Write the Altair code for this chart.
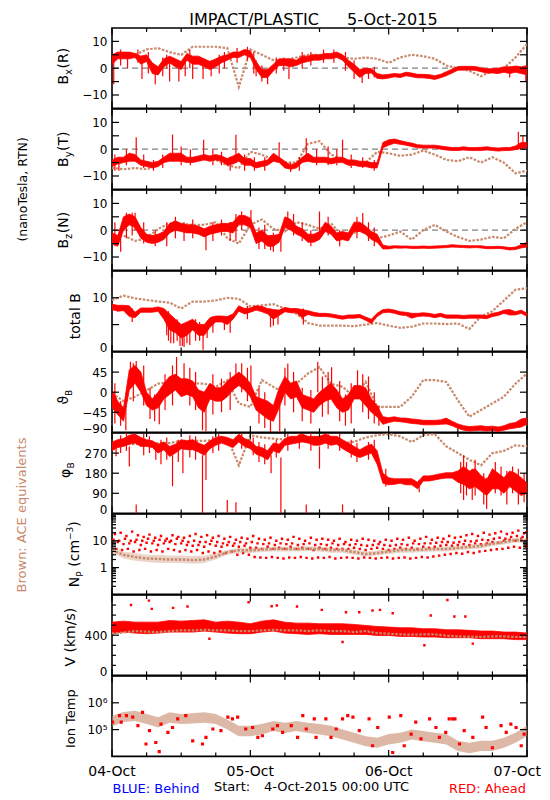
import altair as alt
import pandas as pd

# ---------------------------------------------------------------- data
HOURS = list(range(73))          # hourly samples, 04-Oct 00:00 .. 07-Oct 00:00
HOURS2 = list(range(0, 73, 2))   # two-hourly samples
DAY_H = [0, 24, 48]
DAY_LABELS = ["04-Oct", "05-Oct", "06-Oct"]
LAST_DAY_H = [72]
LAST_DAY_LABEL = ["07-Oct"]
XMAJ = [0, 24, 48, 72]
XMIN = [6, 12, 18, 30, 36, 42, 54, 60, 66]

# ---- Bx (R)
BX_LO = [1.5, 3.5, 3.5, 3.5, 4, 1.5, 2.5, -2, -2.5, 0.5, 2, 0.5, -0.5, 3, 1.5, 1.5, 0.5, -0.5, 0.5, 2,
         3, 4, 4, 5, 4, -0.5, -3.5, -3.5, -1, 1, 1, 0.5, 1, 2, 2.5, 3, 3, 3.5, 3.5, 4,
         3, 0.5, -1.5, -3.5, -2, -1.8,
         -3.8, -4, -3.7, -3.2, -3.5, -2.8, -3.2, -3.6, -3.6, -3.8, -4.2, -3.6, -2.8, -1.8, -0.8, -0.7, -0.7,
         -0.8, -1.3, -1.8, -1.8, -2, -1.5, -2, -1.5, -2, -2.5]
BX_HI = [5, 6, 6, 6, 5.5, 4.5, 5, 2, 0.5, 3.5, 4.5, 3.5, 2.5, 5.5, 4.5, 4.5, 3.5, 2.5, 3.5, 4.5,
         5, 6, 6, 7, 6.5, 2.5, -0.5, -0.5, 1.5, 3.5, 3.5, 3.5, 3, 4.5, 4.5, 5, 5, 5.5, 5.5, 6,
         5, 3, 1.5, -0.5, 0, -0.2,
         -2, -2.5, -2.3, -2, -2.2, -1.5, -1.8, -2.3, -2.3, -2.4, -2.8, -2.3, -1.3, -0.4, 0.6, 0.7, 0.7,
         0.6, 0.2, -0.2, -0.2, 0, 0.5, 0.5, 0.8, 0.5, 1]
BX_SPK_H = [0.3, 5.2, 7.5, 10.0, 11.6, 14.0, 15.8, 27.0, 30.7, 43.4, 69.0, 71.8, 25.0, 33.0,
            1.5, 2.7, 4.5, 6.3, 8.8, 9.5, 12.7, 13.5, 17.2, 18.6, 19.5, 21.7, 23.5, 24.6, 26.0,
            28.5, 29.8, 34.5, 36.7, 38.5, 40.5, 42.0, 44.5, 45.5]
BX_SPK_LO = [-6, -4, -6, -5, -5, -4, -4, -6, -4, -5.5, -3.5, -5, -3, 0,
             1, 0, 2, -2, -3, 0, -3, 0, -3, -2, 0, 2, 3, -2, -5, -2, -1, 1, 2, 2, -1, -4, -4, -3.5]
BX_SPK_HI = [3, 3, 0, 2, 2, 3, 2, -1, 1, -1, 0, 0, 3, 6,
             7, 6, 7, 6, 4, 5, 4, 7, 3, 5, 6, 7.5, 8, 6, 1, 4, 4, 6, 7, 7, 6, 3, 0, 0.5]
BX_ACE = [5, 4, 5, 7, 7.5, 6, 5, 8, 8, 8, 7.5, -7, 7, 5, 3, 3, 4, 5, 5, 5, 4, 3.5, 4, 3.5, 2, 4, 5,
          4.5, 3.5, 1, 0, -1, -3, -1, 0, 4, 9]

# ---- By (T)
BY_LO = [-6.5, -5.5, -5, -4.5, -4.5, -6, -6.5, -7, -6.5, -5, -4.5, -4.5, -4.5, -5, -5, -4.5, -4, -4.5, -4, -4.5,
         -6, -5.5, -4.5, -6, -6, -7, -6.5, -6, -4.5, -5, -7, -7.5, -7, -5, -4.5, -5, -5, -5, -5.5, -5,
         -5, -6, -6, -6.5, -6.5, -7, -7,
         0.5, 1.5, 2.2, 1.8, 1.5, 1, 0.5, 0.4, 0.4, 0.4, 0, -0.3, -0.5, -0.5, -0.3, -0.5, -0.5, -0.5, -0.3, -0.5,
         -0.7, -0.5, -0.5, -0.2, 0.3, 0.5]
BY_HI = [-4, -3, -3, -1.5, -2, -4, -4.5, -5, -4.5, -3, -1.5, -1.5, -1.5, -3, -3, -2.5, -2, -2.5, -2, -2.5,
         -3.5, -2.5, -1.5, -3.5, -3.5, -5, -4.5, -4, -1.5, -3, -4.5, -6, -5, -3, -1.5, -3, -3, -3, -3.5, -3,
         -3, -4, -4, -4.5, -4.5, -5, -5,
         2.5, 3.5, 3.8, 3.2, 2.7, 2.3, 1.7, 1.5, 1.5, 1.5, 1.2, 0.9, 0.6, 0.6, 0.9, 0.6, 0.6, 0.7, 0.9, 0.6,
         0.4, 0.6, 0.6, 1.2, 2.5, 2.5]
BY_SPK_H = [4.2, 10.5, 15.9, 21.5, 29.0, 33.7, 40.0, 70.5, 71.3, 1.2, 31.0,
            0.5, 2.5, 5.5, 7.2, 8.8, 12.0, 13.6, 17.5, 19.0, 20.5, 23.0, 24.7, 26.5, 32.5, 35.5, 37.5,
            39.0, 41.5, 43.5, 45.5]
BY_SPK_LO = [-4, -4, -3, -3, -4, -3, -4, 0, 0, -8, -8.5,
             -8, -6, -7, -8, -7, -6, -6, -6, -6, -8, -8, -8, -8, -8, -6, -6, -6, -7, -7, -8]
BY_SPK_HI = [4.5, 5.5, 3.5, 5.4, 2.6, 4.1, 3.5, 6.5, 5, -3, -5,
             -2, 0, -2, -4, -2, 1, 0, 0, -1, -3, -2, -3, -3, -3, 0, 1, 0, -2, -3, -4]
BY_ACE = [-7, -7.5, -7, -7.5, -6, -3, -4, -4, -3.5, -4, -6, -7, -1, -2, -4, -5, -5, 2, 3, -2, -4, -5,
          -5, -1, -1.5, -2.5, -2, -0.5, -2, -4, -4.5, -3, -5, -3, -5, -9, -8]

# ---- Bz (N)
BZ_LO = [-5, -6, 0, 2, 1, -3, -4.5, -5, -4.5, -3.5, -1, 0, -0.5, -1, -1, -1.5, -2.5, -1.5, -1, -0.5,
         -0.5, -1, 2, 2, 1, -5, -4, -6, -6, -4.5, 1, 0, -1.5, -2.5, -4.5, -4.5, -3.5, -0.5, -1.5, -4,
         -3.5, -4, -0.5, -0.5, -1.5, -3.5, -4.5,
         -7, -7, -6.6, -6.7, -6.6, -6.8, -6.8, -6.7, -6.8, -6.7, -6.6, -6.5, -6.3, -6.4, -6.5, -6.6, -6.5,
         -6.6, -6.9, -6.9, -6.8, -7, -7.4, -7.2, -6.6, -6.3]
BZ_HI = [-1, -2, 5, 6, 5, 1, -1.5, -2, -1.5, -0.5, 2.5, 3.5, 2.5, 2, 2, 1.5, 0.5, 1.5, 2, 2.5,
         2.5, 3, 5.5, 5.5, 4.5, -1, 0, -2, -2, -1.5, 5, 4, 1.5, 0.5, -1.5, -1.5, -0.5, 3, 1.5, -1,
         -0.5, -1, 3, 3, 1.5, -0.5, -1.5,
         -5.5, -6, -5.8, -5.9, -5.9, -6, -6, -5.9, -6, -5.9, -5.8, -5.7, -5.4, -5.6, -5.7, -5.8, -5.8,
         -5.8, -6.1, -6.1, -6, -6.2, -6.5, -6.3, -5.4, -4.5]
BZ_SPK_H = [1.5, 4.0, 16.3, 24.1, 29.3, 30.5, 36.0, 43.5, 27.5, 20.5,
            0.5, 2.5, 3.5, 5.5, 7.5, 9.5, 11.0, 12.5, 14.0, 17.5, 19.0, 21.5, 22.5, 25.5, 26.5, 28.0,
            31.5, 33.0, 34.5, 37.5, 39.5, 42.5, 44.5, 45.5]
BZ_SPK_LO = [-8, 0, -7.5, 1, -8, 1, -1, 0, -7.5, -4,
             -6, -3, -2, -5, -6, -6, -3, -4, -3, -4, -2, -4, 0, -7, -7, -8, -2, -4, -6, -2, -6, -3, -4, -6]
BZ_SPK_HI = [-2, 6.5, 0, 7.5, -2, 7, 7, 6.4, -2, 3,
             3, 6.5, 6.5, 3, 0, 3, 5, 3, 4, 3, 4, 6, 7, 1, 2, -1, 6, 3, 0, 5, 0, 5, 3, 1]
BZ_ACE = [-3, -2, -4, -3, 0.5, 2.5, 2.5, 2, 2, 3, -3, -5, 2, 4, 0.5, -0.5, 3, 2, 0.5, 2.5, -2, -1,
          1, -3, -2, -0.5, -3.5, 0, 2, -0.5, -2.5, -4, -3.5, -2.5, -3, 0.5, 3]

# ---- total B
BT_LO = [7.8, 7.5, 7.6, 6.5, 6.3, 7.3, 7.3, 7.3, 7.5, 6, 4, 3.5, 2.5, 3, 4, 3, 3, 4.5, 5.5, 5.5,
         5, 6, 7.5, 7, 7.3, 7.7, 7.4, 7, 6, 6.7, 7.4, 7.2, 7.2, 6.3, 6.9, 6.6, 6.5, 6.5, 6.4, 6.2,
         6, 6.2, 6.2, 6.3, 5.8, 5.2, 6.5, 7.2, 7.3, 7.1, 6.8, 6.7, 6.2, 6.5, 6.6, 6.5, 6.3, 6.5, 6.2, 6.2,
         6.2, 6.1, 6.2, 6.2, 6.2, 6.1, 6.5, 6.7, 7.1, 6.8, 6.8, 7.1, 6.5]
BT_HI = [8.8, 8.6, 8.6, 8.5, 7.3, 8.1, 8.1, 8.1, 8.3, 8, 7, 6, 5, 5.5, 6, 5, 5, 6.3, 6.6, 6.6,
         6.5, 7, 8.5, 8, 8.1, 8.5, 8.4, 8, 7.8, 7.7, 8.2, 8, 8, 7.8, 7.6, 7.3, 7.1, 7.1, 7, 6.8,
         6.6, 6.8, 6.8, 6.9, 6.4, 6, 7.1, 7.8, 7.9, 7.7, 7.4, 7.3, 7.1, 7.1, 7.2, 7.1, 6.9, 7.1, 6.8, 6.8,
         6.8, 6.7, 6.8, 6.8, 6.8, 6.7, 7.1, 7.3, 7.7, 7.8, 7.4, 7.7, 7.1]
BT_SPK_H = [12.5, 13.5, 15.8, 10.2, 9.5, 28.0, 11.8, 3.5,
            9.8, 10.7, 11.3, 12.2, 13.0, 14.5, 15.2, 16.5, 17.5, 19.5, 20.5, 23.5, 27.5, 28.8, 33.2]
BT_SPK_LO = [0.8, 1.2, 0.3, 1.5, 3, 4.8, 1.0, 5.5,
             2, 1.5, 2, 1, 1.5, 2, 2, 2.5, 3.5, 4, 3.5, 6, 4.5, 5, 5]
BT_SPK_HI = [4, 4, 4, 6, 7, 7, 4, 8,
             7.5, 6, 6, 5, 5.5, 6, 5.5, 5.5, 6.5, 6.5, 6.5, 8.5, 8, 7.5, 8]
BT_ACE = [9.6, 10.4, 9.9, 9.6, 9.3, 9.1, 8, 9.3, 9.3, 9.5, 10, 9.8, 8.4, 8.6, 8.8, 8, 7, 5.3, 4.8,
          4.8, 4.8, 4.7, 5, 5.3, 4.8, 4.4, 4.6, 5.2, 5.2, 5.1, 5.2, 4.2, 6.5, 7.5, 9.5, 11.5, 11.8]

# ---- theta_B
TH_LO = [-35, -50, -65, 5, 20, 0, -30, -40, -35, -15, -5, 5, -10, -5, -10, -35, -45, -15, -20, -20,
         -10, 5, 15, 5, -10, -40, -50, -60, -65, -35, 0, -15, -10, -35, -40, -45, -30, -20, -15, -35,
         -45, -40, -15, -15, -30, -45, -55,
         -72, -68, -65, -66, -68, -70, -71, -73, -73, -73, -72, -71, -75, -81, -85, -87, -86, -85, -87,
         -86, -88, -85, -82, -80, -78, -72]
TH_HI = [5, -20, -35, 50, 60, 45, 0, -15, 0, 20, 35, 40, 30, 30, 25, 5, 0, 20, 10, 10,
         25, 35, 45, 35, 20, -10, -15, -20, -30, 10, 35, 20, 25, -5, -10, -15, 0, 10, 20, 5,
         -15, -5, 15, 15, 10, -15, -30,
         -55, -57, -55, -58, -58, -60, -61, -63, -63, -63, -62, -58, -65, -71, -75, -77, -76, -75, -77,
         -76, -78, -75, -70, -68, -60, -58]
TH_SPK_H = [1.5, 3.2, 4.2, 8.2, 11.2, 12.5, 15.7, 16.3, 21.5, 24.1, 29.1, 30.5, 35.7, 38.1, 42.6, 27.5, 46.3,
            0.5, 2.4, 3.7, 5.5, 6.6, 7.4, 9.2, 10.5, 13.5, 14.5, 17.5, 19.0, 20.5, 22.5, 23.5, 25.5,
            26.5, 30.0, 31.5, 33.0, 34.5, 36.5, 37.5, 39.5, 40.5, 41.5, 43.5, 44.5, 45.5]
TH_SPK_LO = [-75, 20, 30, -72, 20, 20, -85, -88, 20, 10, -88, 20, 0, 10, 0, -90, -75,
             -70, -85, -20, -30, -60, -65, -40, -30, -30, -40, -50, -45, -40, 0, -20, -70,
             -80, -30, -45, -65, -70, -55, -50, -65, -75, -70, -45, -60, -70]
TH_SPK_HI = [-20, 68, 70, -20, 79, 65, -20, -20, 64, 60, -30, 64, 68, 56, 49, -40, -30,
             20, -30, 65, 60, 10, -5, 40, 60, 55, 45, 40, 30, 45, 65, 55, 10,
             0, 55, 45, 10, 5, 35, 45, 25, -5, 20, 40, 35, 0]
TH_ACE = [-3, -20, -10, 4, 19, 23, 15, 20, 19, 12, 27, -25, -33, 27, 12, -3, 19, 42, 56, 19, 12, -10,
          23, -33, -33, -33, -10, 27, 27, 23, -18, -55, -40, -25, -10, 19, 42]

# ---- phi_B
PH_LO = [280, 295, 300, 310, 315, 300, 300, 295, 270, 285, 255, 270, 290, 285, 285, 275, 260, 290, 305, 315,
         305, 295, 320, 300, 290, 265, 255, 240, 280, 270, 305, 310, 315, 320, 315, 305, 305, 315, 305, 310,
         290, 275, 260, 250, 260, 270, 220, 135, 128, 130, 135, 128, 128, 110, 145, 145, 150, 155, 158, 158,
         140, 130, 110, 120, 100, 80, 110, 110, 90, 120, 100, 80, 90]
PH_HI = [320, 330, 335, 350, 355, 340, 330, 325, 310, 320, 300, 310, 330, 325, 330, 315, 305, 325, 340, 345,
         340, 330, 355, 335, 325, 300, 295, 280, 315, 310, 335, 345, 345, 355, 345, 345, 345, 355, 345, 345,
         330, 315, 300, 285, 300, 310, 280, 180, 160, 155, 155, 155, 155, 140, 168, 168, 172, 178, 182, 182,
         190, 210, 190, 200, 170, 150, 200, 180, 160, 190, 180, 160, 135]
PH_SPK_H = [0.7, 3.0, 7.6, 10.5, 12.3, 15.7, 16.3, 27.6, 29.3, 4.2, 20.0, 21.5, 33.7, 40.0, 36.0,
            61.0, 65.0, 70.5, 63.0, 68.5, 60.5,
            1.5, 2.5, 5.5, 6.5, 8.5, 9.5, 11.5, 13.5, 14.5, 17.5, 18.5, 22.5, 24.5, 25.5, 26.5, 28.5,
            30.5, 32.5, 34.5, 37.5, 39.5, 41.5, 42.5, 44.5, 45.5, 47.5, 53.3, 61.5, 62.5, 64.5, 66.5,
            67.5, 69.5, 71.5]
PH_SPK_LO = [256, 210, 240, 122, 180, 0, 150, 180, 0, 0, 0, 0, 0, 0, 200, 60, 20, 40, 80, 40, 90,
             270, 280, 260, 270, 220, 240, 230, 250, 240, 270, 280, 290, 260, 230, 220, 250,
             280, 290, 280, 290, 280, 250, 230, 240, 250, 120, 95, 80, 60, 40, 90, 80, 90, 50]
PH_SPK_HI = [300, 300, 300, 260, 290, 260, 270, 260, 250, 40, 60, 50, 40, 40, 300, 260, 160, 200, 240, 190, 230,
             350, 360, 355, 345, 330, 340, 330, 350, 345, 345, 355, 360, 340, 320, 310, 330,
             355, 360, 360, 360, 355, 330, 315, 320, 330, 200, 150, 230, 200, 180, 230, 210, 210, 180]
PH_ACE = [310, 310, 310, 315, 315, 315, 325, 325, 325, 330, 340, 215, 350, 340, 335, 330, 335, 330, 320,
          320, 315, 320, 340, 350, 355, 345, 320, 350, 355, 300, 270, 240, 215, 270, 280, 305, 300]

# ---- Np (cm^-3): four scatter groups, each sampled at its own time stagger
NP_T_HI = [h + 0.5 for h in range(72)] + [71.9]
NP_T_UP = [h + 0.25 for h in range(73)]
NP_T_MID = HOURS
NP_T_LO = [h + 0.75 for h in range(72)] + [71.8]
NP_HI = [18, 20, 15, 22, 16, 14, 17, 13, 15, 12, 16, 14, 13, 15, 18, 14, 16, 13, 15, 12, 14, 11, 13, 12, 15,
         12, 11, 13, 10, 12, 11, 14, 12, 10, 13, 11, 12, 11, 10, 12, 9, 11, 10, 12, 11, 10, 9, 11, 10,
         12, 11, 13, 10, 12, 14, 11, 13, 12, 15, 13, 14, 16, 18, 15, 20, 17, 19, 22, 18, 20, 24, 19, 21]
NP_UP = [11, 10, 12, 10, 11, 10, 12, 10, 11, 10, 10, 12, 10, 9, 10, 9, 9, 10, 9, 8, 9, 8, 9, 8, 9,
         8, 7.5, 8, 7, 8, 7.5, 8, 7, 7.5, 8, 7, 7.5, 7, 8, 7, 7.5, 7, 7.5, 7, 6.5, 7, 7.5, 7, 6.5,
         7, 7.5, 7, 8, 7.5, 8, 8, 8.5, 9, 9, 8.5, 9, 10, 9.5, 10, 11, 10.5, 12, 13, 12, 14, 15, 14, 16]
NP_MID = [8, 9, 7.5, 8, 9, 7, 8.5, 8, 7, 8, 9, 7.5, 8, 7, 6.5, 7, 6, 7.5, 6.5, 6, 7, 6.5, 6, 6.5, 5.5,
          5.5, 5, 6, 5, 5.5, 5, 6, 5, 5.5, 5, 4.5, 5.5, 5, 5.5, 5, 5, 5, 5.5, 5, 4.5, 5, 5.5, 5, 4.5,
          5, 5.5, 5, 5.5, 5, 6, 5.5, 6, 6.5, 7, 6.5, 7, 7.5, 7, 8, 7.5, 8, 9, 8.5, 10, 11, 10, 12, 11]
NP_LO = [5, 4.5, 5, 4, 4.5, 5, 4, 4.5, 4, 5, 4.5, 4, 4.5, 4, 4.5, 3.5, 4, 3.5, 4, 3.5, 4, 3, 3.5, 3, 2.5,
         2.4, 2.3, 2.5, 2.3, 2.2, 2.4, 2.3, 2.5, 2.3, 2.2, 2.4, 2.3, 2.5, 2.2, 2.3, 2.4, 2.3, 2.2, 2.4,
         2.3, 2.2, 2.3, 2.4, 2.2, 2.3, 2.4, 2.2, 2.3, 2.5, 2.4, 2.6, 2.8, 3, 3.2, 3.5, 3.3, 3.8, 3.5, 4,
         4.2, 4.5, 4.8, 5, 5.5, 6, 5.5, 6.5, 6]
NP_ACE = [4.5, 3, 2.5, 2.2, 2.1, 2.0, 2.0, 1.9, 2.0, 2.6, 3.7, 4.4, 4.4, 4.7, 4.9, 4.9, 4.9, 5.1, 4.9,
          4.5, 4.5, 3.8, 3.2, 3.5, 4, 4.5, 4.5, 4.7, 4.9, 4.9, 5.4, 5.9, 6.4, 7.8, 8.9, 10.7, 9.8]
NP_ACE_LO = [3.5, 2.2, 1.8, 1.6, 1.5, 1.5, 1.5, 1.4, 1.5, 2, 3, 3.5, 3.5, 3.8, 4, 4, 4, 4.2, 4, 3.6, 3.6,
             3, 2.6, 2.8, 3.2, 3.6, 3.6, 3.8, 4, 4, 4.4, 4.8, 5.2, 6.4, 7.2, 8.8, 8]
NP_ACE_HI = [6, 4, 3.5, 3, 3, 2.8, 2.8, 2.7, 2.8, 3.5, 4.5, 5.5, 5.5, 5.8, 6, 6, 6, 6.3, 6, 5.5, 5.5,
             4.8, 4, 4.3, 5, 5.5, 5.5, 5.8, 6, 6, 6.6, 7.2, 7.8, 9.5, 11, 13, 12]

# ---- V (km/s)
V_LO = [415, 431, 421, 415, 421, 431, 431, 431, 441, 431, 421, 415, 415, 431, 441, 421, 415, 408, 415,
        408, 408, 408, 408, 398, 398, 388, 388, 382, 382, 375, 375, 375, 365, 365, 365, 356, 356]
V_HI = [530, 540, 530, 530, 530, 546, 540, 546, 553, 530, 540, 530, 514, 540, 553, 530, 520, 520, 514,
        514, 514, 507, 497, 487, 481, 474, 474, 464, 464, 454, 454, 448, 441, 441, 431, 431, 421]
V_OUT_H = [3.3, 6.4, 6.9, 10.6, 13.1, 23.7, 27.7, 28.6, 32.1, 36.4, 40.6, 42.9, 45.2, 46.5, 48.7,
           55.3, 58.2, 59.4, 61.3, 54.2, 40.0, 62.6, 16.9]
V_OUT = [701, 744, 662, 672, 685, 728, 688, 695, 685, 652, 629, 629, 645, 652, 619, 596, 751, 586, 586,
         300, 332, 316, 365]
V_ACE = [415, 428, 441, 435, 431, 441, 448, 448, 454, 448, 448, 441, 441, 448, 454, 448, 448, 441, 448,
         441, 441, 431, 441, 421, 415, 408, 405, 408, 408, 395, 388, 385, 382, 388, 388, 382, 382]

# ---- Ion temperature (K)
T_H = [0.1, 1.3, 1.6, 2.5, 3.6, 4.5, 5.3, 5.9, 6.5, 7.6, 8.2, 8.5, 9.7, 10.5, 11.4, 12.8, 14.0, 15.7,
       16.3, 17.5, 18.9, 20.1, 20.9, 21.8, 23.2, 24.4, 25.3, 26.1, 27.9, 28.7, 29.6, 31.1, 32.2, 33.1,
       33.7, 35.1, 35.4, 37.1, 38.0, 38.9, 40.0, 40.9, 41.8, 42.9, 44.6, 45.2, 46.1, 48.1, 48.7, 50.1,
       50.7, 51.9, 52.7, 53.6, 55.1, 56.2, 56.8, 57.9, 58.5, 59.1, 59.5, 60.3, 61.1, 62.6, 64.3, 64.9,
       66.0, 67.5, 68.4, 69.2, 70.1, 71.0, 71.5]
T_RED = [1.9e5, 3.3e5, 1.9e5, 3.3e5, 2.9e5, 1.4e5, 4.4e5, 2.9e4, 9.1e4, 3.3e4, 1.5e4, 1.6e5, 7.9e4, 1.2e5,
         2.5e5, 3.3e5, 3.8e4, 2.9e4, 5.1e4, 1.05e5, 9.1e4, 2.9e5, 2.5e5, 2.9e5, 1.05e5, 1.2e5, 5.1e4, 5.9e4,
         1.05e5, 1.4e5, 7.9e4, 1.4e5, 5.1e4, 3.3e5, 1.05e5, 2.5e5, 5.1e4, 2.5e5, 5.1e4, 1.05e5, 2.5e5,
         3.3e5, 2.9e5, 9.1e4, 2.5e5, 2.5e4, 1.2e5, 2.9e5, 1.4e4, 3.3e5, 2.5e4, 6.8e4, 1.9e5, 4.5e4, 2.5e5,
         1.2e5, 5.1e4, 7.9e4, 2.5e5, 2.5e5, 2.5e5, 2.9e4, 9.1e4, 5.1e4, 2.9e5, 1.2e5, 2.1e4, 1.4e5, 7.9e4,
         1.6e5, 1.2e5, 2.5e4, 6.8e4]
T_ACE_LO = [1.3e5, 1.9e5, 2.1e5, 1.6e5, 1.2e5, 1.8e5, 1.6e5, 1.7e5, 1.8e5, 1.6e5, 1.0e5, 5.7e4, 5.7e4,
            6.6e4, 8.8e4, 7.5e4, 8.8e4, 7.5e4, 6.6e4, 5.7e4, 4.3e4, 3.2e4, 2.4e4, 2.1e4, 2.8e4, 3.2e4,
            4.3e4, 3.7e4, 3.2e4, 2.8e4, 1.6e4, 1.3e4, 1.6e4, 1.6e4, 2.1e4, 3.2e4, 5.7e4]
T_ACE_HI = [3.2e5, 4.5e5, 5.0e5, 3.8e5, 2.9e5, 4.4e5, 3.8e5, 4.1e5, 4.4e5, 3.8e5, 2.4e5, 1.4e5, 1.4e5,
            1.6e5, 2.1e5, 1.8e5, 2.1e5, 1.8e5, 1.6e5, 1.4e5, 1.0e5, 7.7e4, 5.7e4, 5.0e4, 6.8e4, 7.7e4,
            1.0e5, 8.9e4, 7.7e4, 6.8e4, 3.8e4, 3.2e4, 3.8e4, 3.8e4, 5.0e4, 7.7e4, 1.4e5]

# ---------------------------------------------------------------- style / layout
W = 415
H = 80.39
RED = "#ff0000"
BROWN = "#c8896b"
FONT = "DejaVu Sans"
ONE = pd.DataFrame({"k": [0]})
XS = alt.Scale(domain=[0, 72], nice=False, zero=False)

CW = {"B": .686, "x": .592, "y": .592, "z": .525, "(": .390, ")": .390, "R": .695, "T": .611,
      "N": .748, "P": .603, " ": .318, "c": .550, "m": .974, "\u2212": .838, "3": .636,
      "\u03d1": .62, "\u03c6": .68}


def tw(s, size):
    return sum(CW.get(ch, .6) for ch in s) * size


def X():
    return alt.X("h:Q", scale=XS, axis=None)


def frame(h, **cols):
    d = {"h": h}
    d.update(cols)
    return pd.DataFrame(d)


def txt(s, x, y, size, color="black", angle=0, align="left", baseline="alphabetic"):
    return alt.Chart(ONE).mark_text(text=s, fontSize=size, color=color, angle=angle, align=align,
                                    baseline=baseline, font=FONT).encode(x=alt.value(x), y=alt.value(y))


def vlabel(segs, xb, yc):
    total = sum(tw(t, sz) + gap for t, sz, sh, gap in segs)
    y = yc + total / 2
    out = []
    for t, sz, sh, gap in segs:
        y -= gap
        out.append(txt(t, xb + sh, y, sz, angle=270))
        y -= tw(t, sz)
    return out


def make_panel(dom, typ, lab_vals, lab_expr, bottom_val, maj, mnr, data_layers, zero=False, extra=()):
    if typ == "log":
        ys = alt.Scale(domain=dom, type="log", nice=False)
    else:
        ys = alt.Scale(domain=dom, nice=False, zero=False)
    akw = dict(values=lab_vals, ticks=False, domain=False, grid=False, labelPadding=5, labelFontSize=12,
               labelFont=FONT, labelColor="black", title=None, labelOverlap=False, labelFlush=False)
    if lab_expr:
        akw["labelExpr"] = lab_expr
    if bottom_val is not None:
        akw["labelBaseline"] = {"condition": {"test": f"datum.value == {bottom_val}", "value": "alphabetic"},
                                "value": "middle"}
    ax = alt.Axis(**akw)

    def Y(f):
        return alt.Y(f + ":Q", scale=ys, axis=ax)

    layers = [alt.Chart(pd.DataFrame({"v": [dom[0]]})).mark_point(opacity=0).encode(y=Y("v"), x=alt.value(0))]
    if zero:
        layers.append(alt.Chart(pd.DataFrame({"v": [0]})).mark_rule(color="#808080", strokeDash=[6, 4],
                                                                    strokeWidth=1.2)
                      .encode(y=Y("v"), x=alt.value(0), x2=alt.value(W)))
    for kind, df, opts in data_layers:
        if kind == "band":
            layers.append(alt.Chart(df).mark_area(clip=True, **opts)
                          .encode(x=X(), y=Y("lo"), y2=alt.Y2("hi:Q")))
        elif kind == "spike":
            layers.append(alt.Chart(df).mark_rule(clip=True, **opts)
                          .encode(x=X(), y=Y("lo"), y2=alt.Y2("hi:Q")))
        elif kind == "line":
            layers.append(alt.Chart(df).mark_line(clip=True, **opts).encode(x=X(), y=Y("v")))
        elif kind == "point":
            layers.append(alt.Chart(df).mark_square(clip=True, **opts).encode(x=X(), y=Y("v")))
    for vals, L in ((maj, 7), (mnr, 4)):
        if not vals:
            continue
        d = pd.DataFrame({"v": vals})
        b = alt.Chart(d).mark_rule(color="black", strokeWidth=1.2)
        layers.append(b.encode(y=Y("v"), x=alt.value(0), x2=alt.value(L)))
        layers.append(b.encode(y=Y("v"), x=alt.value(W - L), x2=alt.value(W)))
    for vals, L in ((XMAJ, 6.5), (XMIN, 4)):
        d = pd.DataFrame({"h": vals})
        b = alt.Chart(d).mark_rule(color="black", strokeWidth=1.2)
        layers.append(b.encode(x=X(), y=alt.value(0), y2=alt.value(L)))
        layers.append(b.encode(x=X(), y=alt.value(H - L), y2=alt.value(H)))
    layers.extend(extra)
    return alt.layer(*layers).properties(width=W, height=H)


BAND = dict(color=RED, stroke=RED, strokeWidth=0.8)
SPK = dict(color=RED, strokeWidth=1.2)
ACE = dict(color=BROWN, strokeWidth=2.2, strokeDash=[2.5, 1.5])
PT = dict(color=RED, size=6, opacity=1)


def mag_layers(lo, hi, sh, slo, shi, ace):
    return [("line", frame(HOURS2, v=ace), ACE),
            ("band", frame(HOURS, lo=lo, hi=hi), BAND),
            ("spike", frame(sh, lo=slo, hi=shi), SPK)]


BTICKS = [-10, -5, 0, 5, 10]
Hc = H / 2

p1 = make_panel([-15, 15], "linear", [-10, 0, 10], None, None, BTICKS, [],
                mag_layers(BX_LO, BX_HI, BX_SPK_H, BX_SPK_LO, BX_SPK_HI, BX_ACE), zero=True,
                extra=vlabel([("B", 14, 0, 0), ("x", 10, 4, 0), ("(R)", 14, 0, 0.5)], -44, Hc - 2)
                + [txt("IMPACT/PLASTIC", 207, -3.5, 16, align="right"),
                   txt("5-Oct-2015", 235, -3.5, 16, align="left")])
p2 = make_panel([-15, 15], "linear", [-10, 0, 10], None, None, BTICKS, [],
                mag_layers(BY_LO, BY_HI, BY_SPK_H, BY_SPK_LO, BY_SPK_HI, BY_ACE), zero=True,
                extra=vlabel([("B", 14, 0, 0), ("y", 10, 4, 0), ("(T)", 14, 0, 0.5)], -44, Hc)
                + [txt("(nanoTesla, RTN)", -85, H, 12.5, angle=270, align="center")])
p3 = make_panel([-15, 15], "linear", [-10, 0, 10], None, None, BTICKS, [],
                mag_layers(BZ_LO, BZ_HI, BZ_SPK_H, BZ_SPK_LO, BZ_SPK_HI, BZ_ACE), zero=True,
                extra=vlabel([("B", 14, 0, 0), ("z", 10, 4, 0), ("(N)", 14, 0, 0.5)], -44, Hc))
p4 = make_panel([0, 15], "linear", [0, 10], None, 0, [5, 10], [],
                mag_layers(BT_LO, BT_HI, BT_SPK_H, BT_SPK_LO, BT_SPK_HI, BT_ACE),
                extra=vlabel([("total B", 14, 0, 0)], -32, Hc))
p5 = make_panel([-90, 90], "linear", [-90, -45, 0, 45], None, -90, [-45, 0, 45], [],
                mag_layers(TH_LO, TH_HI, TH_SPK_H, TH_SPK_LO, TH_SPK_HI, TH_ACE),
                extra=vlabel([("\u03d1", 14, 0, 0), ("B", 9, 4, 0)], -44, Hc + 5))
p6 = make_panel([0, 360], "linear", [0, 90, 180, 270], None, 0, [90, 180, 270], [],
                mag_layers(PH_LO, PH_HI, PH_SPK_H, PH_SPK_LO, PH_SPK_HI, PH_ACE),
                extra=vlabel([("\u03c6", 14, 0, 0), ("B", 9, 4, 0)], -42, Hc - 3))
NP_MINOR = [0.2, 0.3, 0.4, 0.5, 0.6, 0.7, 0.8, 0.9, 2, 3, 4, 5, 6, 7, 8, 9, 20, 30, 40, 50, 60, 70, 80, 90]
p7 = make_panel([0.1, 100], "log", [1, 10], "datum.value > 5 ? '10' : '1'", None, [1, 10], NP_MINOR,
                [("point", frame(NP_T_HI, v=NP_HI), PT),
                 ("point", frame(NP_T_UP, v=NP_UP), PT),
                 ("point", frame(NP_T_MID, v=NP_MID), PT),
                 ("point", frame(NP_T_LO, v=NP_LO), PT),
                 ("band", frame(HOURS2, lo=NP_ACE_LO, hi=NP_ACE_HI), dict(color=BROWN, opacity=0.35)),
                 ("line", frame(HOURS2, v=NP_ACE), dict(color=BROWN, strokeWidth=2.5, strokeDash=[2.5, 1.5]))],
                extra=vlabel([("N", 14, 0, 0), ("P", 9, 4, 0), ("(cm", 14, 0, 4.5), ("\u22123", 9, -6, 0),
                              (")", 14, 0, 0)], -33, Hc)
                + [txt("Brown: ACE equivalents", -86, 1, 13, color=BROWN, angle=270, align="center")])
p8 = make_panel([0, 800], "linear", [0, 400], None, 0, [400], [100, 200, 300, 500, 600, 700],
                [("band", frame(HOURS2, lo=V_LO, hi=V_HI), BAND),
                 ("point", frame(V_OUT_H, v=V_OUT), PT),
                 ("line", frame(HOURS2, v=V_ACE), ACE)],
                extra=vlabel([("V (km/s)", 14, 0, 0)], -37, Hc))
day_df = pd.DataFrame({"h": DAY_H, "lab": DAY_LABELS})
last_df = pd.DataFrame({"h": LAST_DAY_H, "lab": LAST_DAY_LABEL})
p9 = make_panel([1e4, 1e7], "log", [1e5, 1e6], "datum.value > 3e5 ? '10\u2076' : '10\u2075'", None,
                [1e5, 1e6], [],
                [("band", frame(HOURS2, lo=T_ACE_LO, hi=T_ACE_HI), dict(color=BROWN, opacity=0.6)),
                 ("point", frame(T_H, v=T_RED), dict(color=RED, size=10, opacity=1))],
                extra=vlabel([("Ion Temp", 13, 0, 0)], -37, Hc)
                + [alt.Chart(day_df).mark_text(fontSize=14, font=FONT, color="black", baseline="middle",
                                               align="center").encode(x=X(), y=alt.value(H + 15.5), text="lab:N"),
                   alt.Chart(last_df).mark_text(fontSize=14, font=FONT, color="black", baseline="middle",
                                                align="right", dx=14).encode(x=X(), y=alt.value(H + 15.5),
                                                                             text="lab:N"),
                   txt("BLUE: Behind", 44, H + 33, 13, color="#0000ff", align="center", baseline="middle"),
                   txt("Start:", 102, H + 31, 13, align="left", baseline="middle"),
                   txt("4-Oct-2015 00:00 UTC", 152, H + 31, 13, align="left", baseline="middle"),
                   txt("RED: Ahead", 414, H + 33, 13, color=RED, align="right", baseline="middle")])

chart = alt.vconcat(p1, p2, p3, p4, p5, p6, p7, p8, p9, spacing=0, bounds="flush").properties(
    padding={"left": 7, "top": 2, "right": 0, "bottom": 0}
).configure_view(stroke="black", strokeWidth=1.6)

chart.save("out.html", embed_options={"renderer": "svg", "actions": False})
